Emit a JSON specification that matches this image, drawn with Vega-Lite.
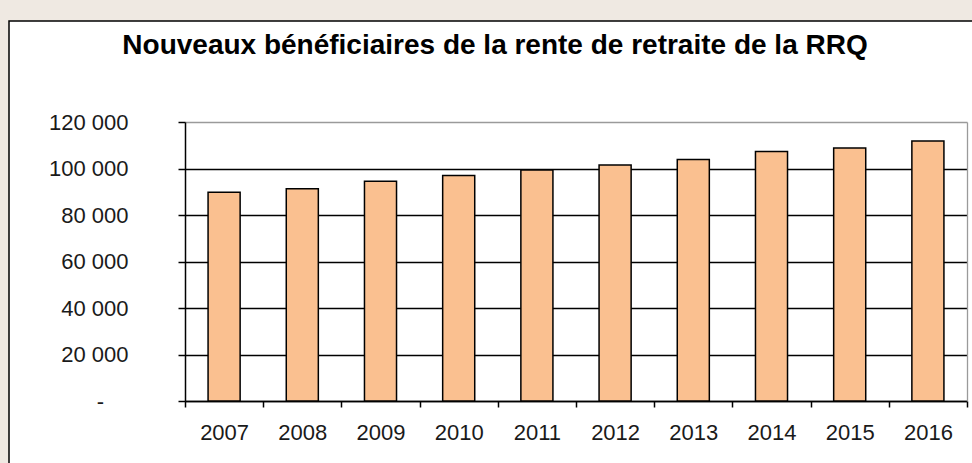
{
  "$schema": "https://vega.github.io/schema/vega-lite/v6.json",
  "width": 968,
  "height": 447,
  "autosize": {"type": "none"},
  "padding": {"left": 9, "top": 21, "right": -5, "bottom": -5},
  "background": "#efe9e2",
  "title": {
    "text": "Nouveaux bénéficiaires de la rente de retraite de la RRQ",
    "anchor": "middle",
    "frame": "group",
    "offset": -61,
    "baseline": "alphabetic",
    "font": "Liberation Sans",
    "fontSize": 28,
    "fontWeight": "bold",
    "color": "#000000",
    "dx": 2
  },
  "data": {
    "values": [
      {"year": "2007", "value": 89800},
      {"year": "2008", "value": 91300},
      {"year": "2009", "value": 94500},
      {"year": "2010", "value": 97000},
      {"year": "2011", "value": 99400},
      {"year": "2012", "value": 101500},
      {"year": "2013", "value": 103900},
      {"year": "2014", "value": 107300},
      {"year": "2015", "value": 108800},
      {"year": "2016", "value": 111800}
    ]
  },
  "encoding": {
    "x": {
      "field": "year",
      "type": "ordinal",
      "scale": {"range": [176, 958], "paddingInner": 0, "paddingOuter": 0},
      "axis": {
        "title": null,
        "orient": "bottom",
        "offset": -67,
        "tickBand": "extent",
        "tickSize": 6,
        "tickWidth": 1.5,
        "tickColor": "#000000",
        "domainColor": "#000000",
        "domainWidth": 1.5,
        "labelFont": "Liberation Sans",
        "labelFontSize": 22,
        "labelColor": "#1a1a1a",
        "labelPadding": 15,
        "labelAngle": 0,
        "grid": false
      }
    }
  },
  "layer": [
    {
      "mark": {"type": "bar", "fill": "#fac090", "stroke": "#000000", "strokeWidth": 1.5, "width": {"band": 0.41}},
      "encoding": {
        "y": {
          "field": "value",
          "type": "quantitative",
          "scale": {"domain": [0, 120000], "range": [380, 101], "nice": false, "zero": true},
          "axis": {
            "title": null,
            "orient": "left",
            "offset": -176,
            "values": [0, 20000, 40000, 60000, 80000, 100000, 120000],
            "labelExpr": "datum.value == 0 ? '-\u2007\u2007\u2060' : replace(format(datum.value, ','), ',', ' ')",
            "labelFont": "Liberation Sans",
            "labelFontSize": 22,
            "labelColor": "#1a1a1a",
            "labelPadding": 50,
            "tickSize": 7,
            "tickWidth": 1.5,
            "tickColor": "#000000",
            "domainColor": "#000000",
            "domainWidth": 1.5,
            "grid": true,
            "gridColor": {"condition": {"test": "datum.value == 120000", "value": "#9a9a9a"}, "value": "#000000"},
            "gridWidth": 1.3
          }
        }
      }
    },
    {
      "mark": {"type": "bar", "opacity": 0, "width": {"band": 0.41}},
      "encoding": {
        "y": {
          "field": "value",
          "type": "quantitative",
          "axis": {
            "title": null,
            "orient": "right",
            "offset": -10,
            "ticks": false,
            "labels": false,
            "grid": false,
            "domainColor": "#9a9a9a",
            "domainWidth": 1.3
          }
        }
      }
    }
  ],
  "resolve": {"axis": {"y": "independent"}},
  "config": {
    "view": {"stroke": "#000000", "strokeWidth": 1.5, "fill": "#ffffff"}
  }
}
